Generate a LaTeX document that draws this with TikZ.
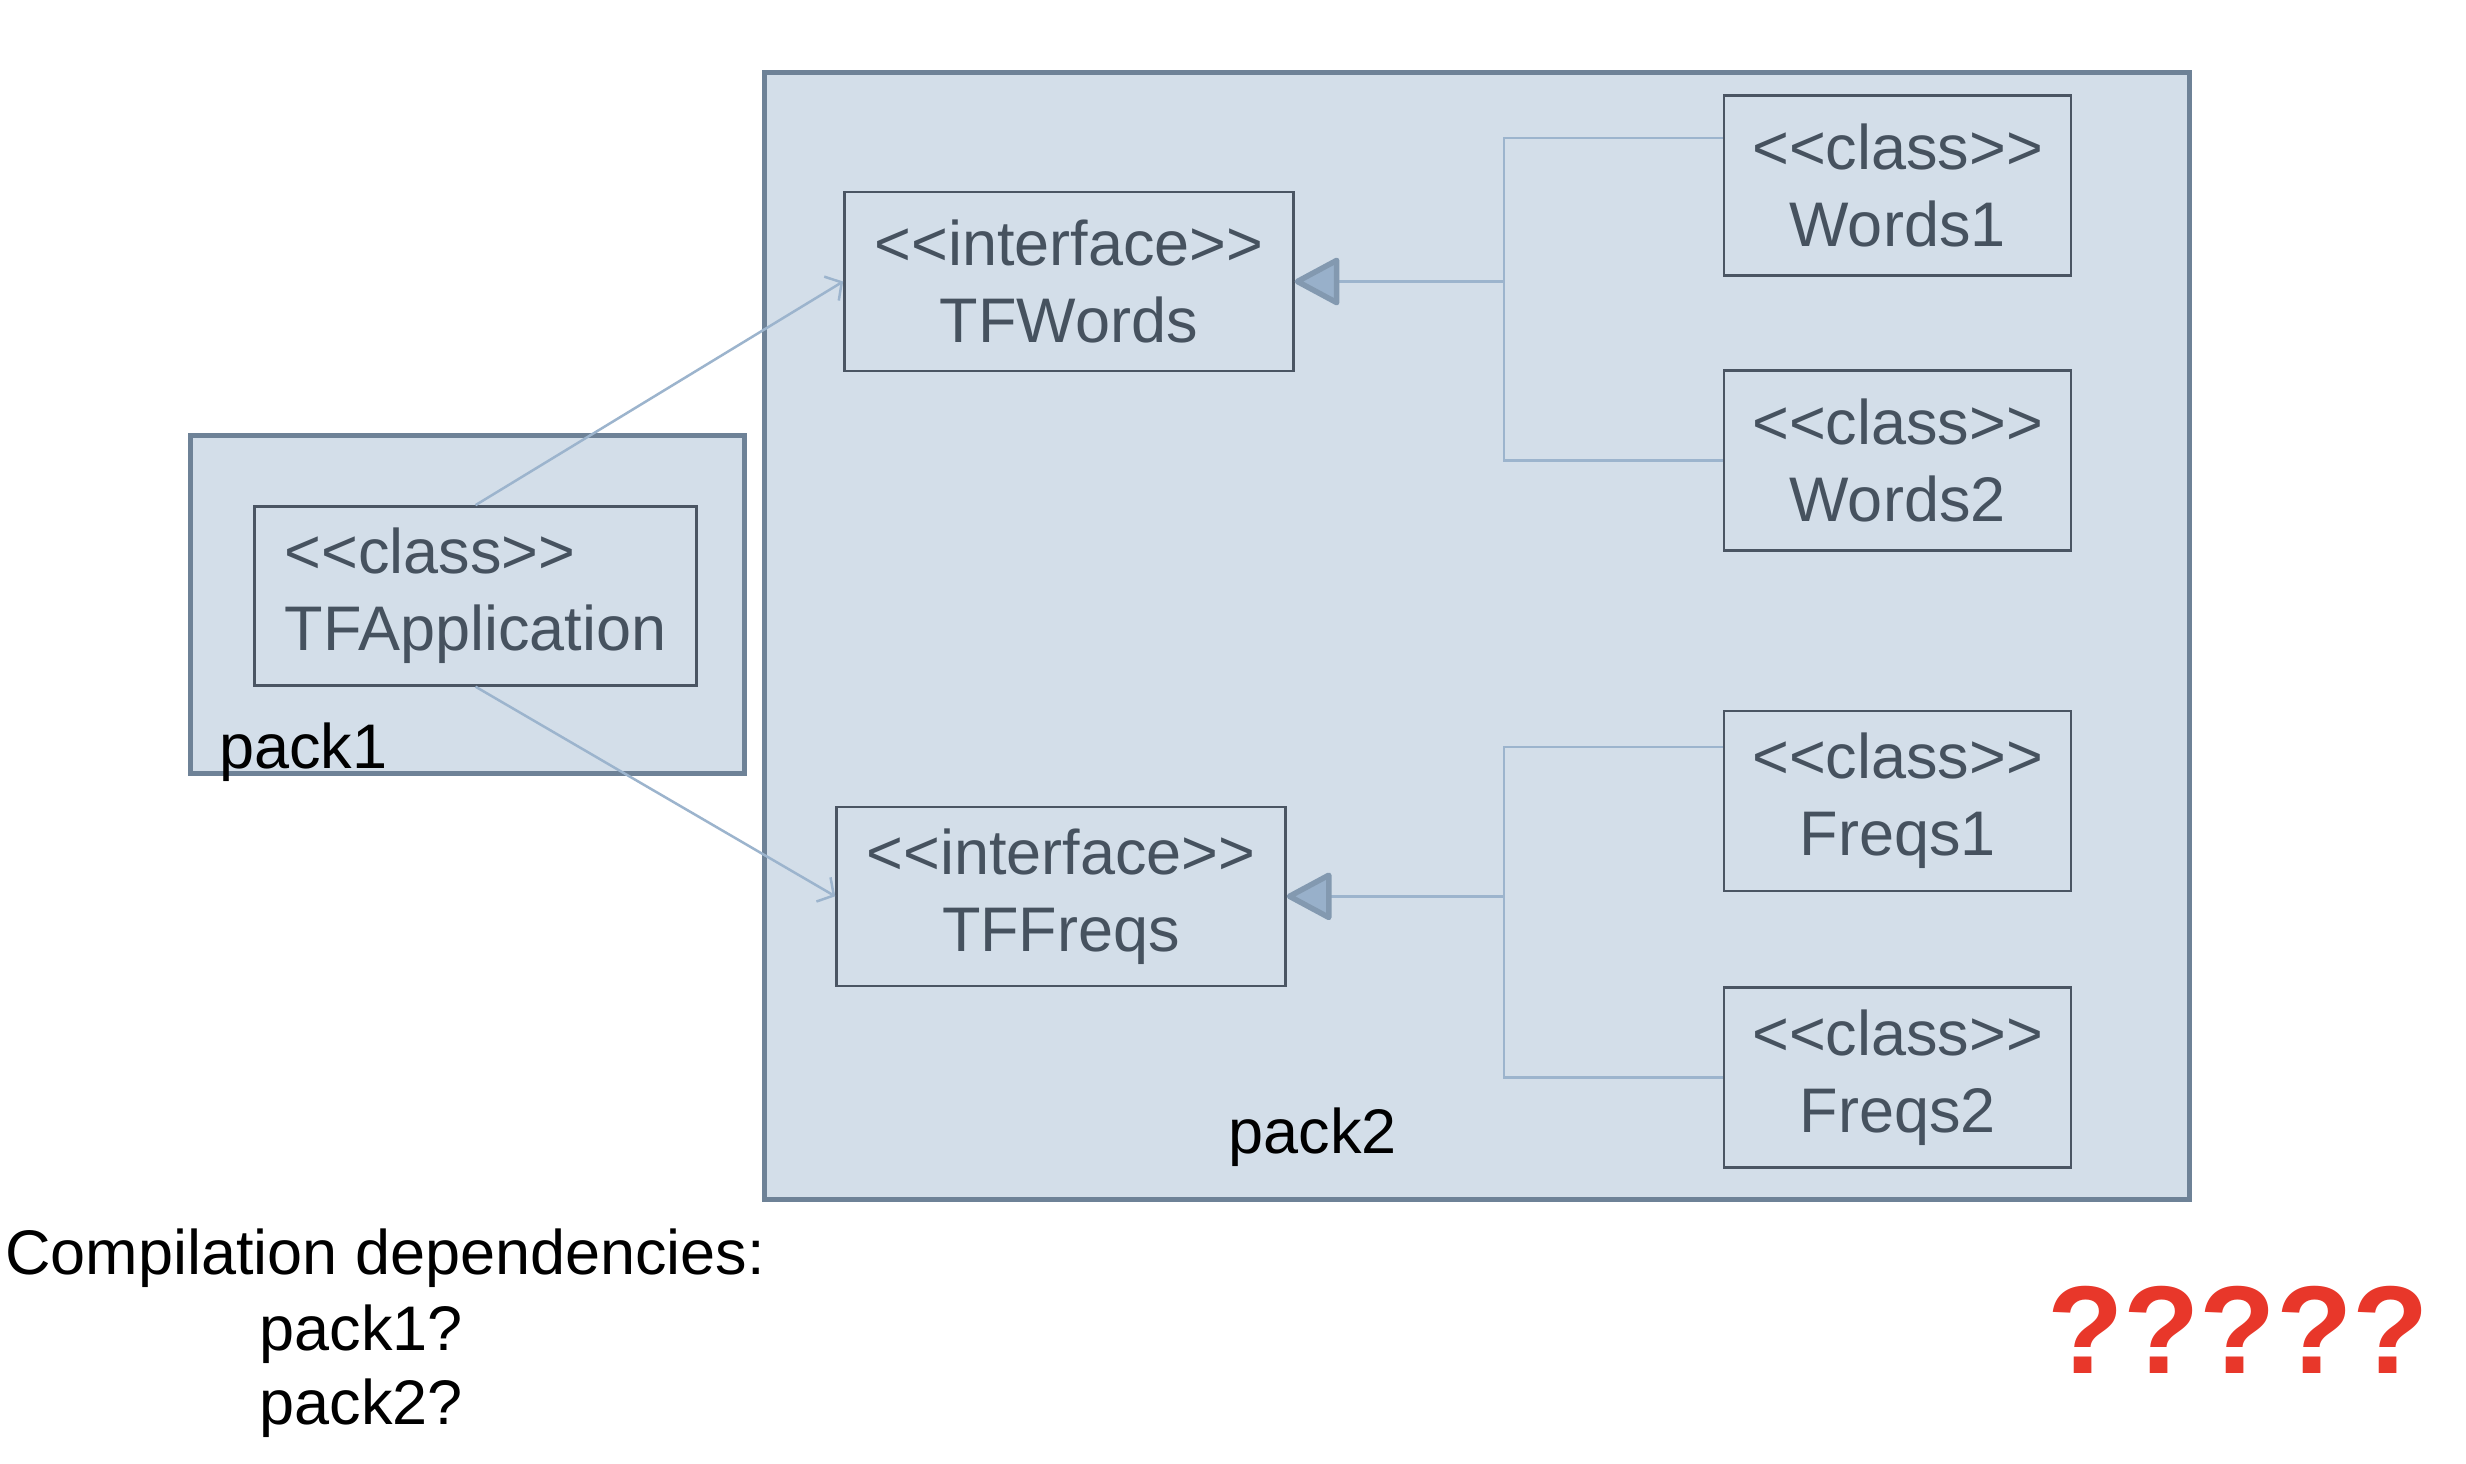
\documentclass[tikz,border=0pt]{standalone}
\usepackage{fontspec}
\setmainfont{Liberation Sans}
\usetikzlibrary{arrows.meta}
\definecolor{pkgfill}{HTML}{D3DEE9}
\definecolor{pkgedge}{HTML}{6E8297}
\definecolor{clsedge}{HTML}{4A5563}
\definecolor{clstext}{HTML}{46525F}
\definecolor{conn}{HTML}{9CB4CD}
\definecolor{genfill}{HTML}{98B0CA}
\definecolor{genedge}{HTML}{8399B0}
\definecolor{qred}{HTML}{E8372A}
\newcommand\llt{<\kern0pt<}
\newcommand\ggt{>\kern0pt>}
\begin{document}
\begin{tikzpicture}[x=1pt,y=-1pt,
  pkg/.style={draw=pkgedge, fill=pkgfill, line width=5pt, inner sep=0pt},
  cls/.style={draw=clsedge, fill=pkgfill, line width=2.5pt, text=clstext, inner sep=0pt,
    font=\fontsize{63}{77}\selectfont, align=center, minimum width=347pt, minimum height=180pt},
  wide/.style={minimum width=449pt, minimum height=179pt},
  lbl/.style={anchor=base west, inner sep=0pt, text=black, font=\fontsize{63}{76}\selectfont},
  dep/.style={draw=conn, line width=2.5pt, -{Straight Barb[length=12pt,width=28pt,line width=2.5pt]}},
  genline/.style={draw=conn, line width=2.5pt},
  gen/.style={draw=conn, line width=2.5pt, -{Triangle[length=48pt,width=50pt,fill=genfill,color=genedge,line width=5.5pt,line join=round]}}
]
\useasboundingbox[fill=white] (0,0) rectangle (2466,1464);

% packages
\node[pkg, minimum width=1425.5pt, minimum height=1127pt] (pack2) at (1476.8,636.2) {};
\node[pkg, minimum width=554pt, minimum height=338pt] (pack1) at (467.1,604.8) {};

% classes
\node[cls, minimum width=441.7pt, minimum height=179pt, align=left] (tfa) at (475.5,595.9) {\llt class\ggt\\TFApplication};
\node[cls, wide] (tfw) at (1068.9,281.5) {\llt interface\ggt\\TFWords};
\node[cls, wide] (tff) at (1061.0,896.3) {\llt interface\ggt\\TFFreqs};
\node[cls] (w1) at (1897.6,185.5) {\llt class\ggt\\Words1};
\node[cls] (w2) at (1897.6,460.6) {\llt class\ggt\\Words2};
\node[cls] (f1) at (1897.6,800.8) {\llt class\ggt\\Freqs1};
\node[cls] (f2) at (1897.6,1077.4) {\llt class\ggt\\Freqs2};

% generalizations
\coordinate (jw) at (1504.1,281.5);
\coordinate (jf) at (1504.1,896.3);
\draw[genline] ([yshift=47.7pt]w1.west) -| (jw) |- (w2.west);
\draw[gen] (jw) -- (tfw.east);
\draw[genline] ([yshift=53.7pt]f1.west) -| (jf) |- (f2.west);
\draw[gen] (jf) -- (tff.east);

% dependencies
\draw[dep] (tfa.north) -- (tfw.west);
\draw[dep] (tfa.south) -- (tff.west);

% labels
\node[lbl] (l1) at (218.9,768) {pack1};
\node[lbl] (l2) at (1228.6,1153) {pack2};
\node[lbl] (cd) at (5,1274.3) {Compilation dependencies:};
\node[lbl] (q1) at (259.6,1350) {pack1?};
\node[lbl] (q2) at (259.6,1424.5) {pack2?};
\node[anchor=base west, inner sep=0pt, text=qred, font=\fontsize{125}{140}\selectfont\bfseries] (qq) at (2047,1373.5) {?????};
\end{tikzpicture}
\end{document}
